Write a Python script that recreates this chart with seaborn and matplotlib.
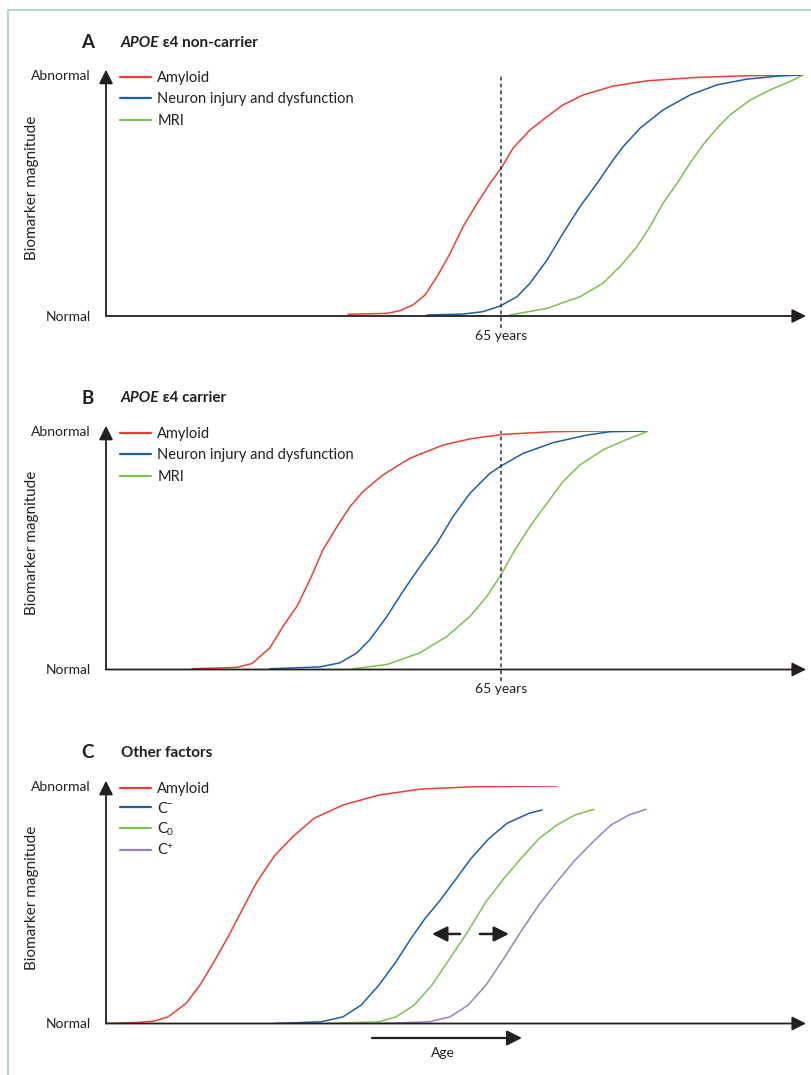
import matplotlib
matplotlib.use("Agg")
import matplotlib.pyplot as plt
import pandas as pd
import seaborn as sns
from matplotlib.patches import Rectangle

# === data (age axis in plot units, magnitude 0 = normal, 1 = abnormal) ===

# Panel A: APOE e4 non-carrier
a_amyloid_x = [348, 387, 400, 413, 425, 437, 450, 463, 477, 490, 502, 513, 530, 547, 563, 583, 613, 647, 697, 747, 803]
a_amyloid_y = [0.007, 0.011, 0.022, 0.046, 0.087, 0.163, 0.259, 0.370, 0.467, 0.550, 0.619, 0.696, 0.772, 0.827, 0.876,
               0.917, 0.954, 0.976, 0.990, 0.997, 1.0]
a_neuron_x = [427, 463, 483, 500, 517, 530, 547, 563, 580, 597, 613, 623, 640, 663, 690, 717, 747, 780, 803]
a_neuron_y = [0.004, 0.008, 0.018, 0.041, 0.080, 0.136, 0.232, 0.343, 0.454, 0.550, 0.647, 0.702, 0.779, 0.855, 0.917,
              0.959, 0.983, 0.996, 1.0]
a_mri_x = [510, 547, 580, 603, 620, 637, 650, 663, 677, 690, 703, 717, 730, 750, 770, 790, 803]
a_mri_y = [0.004, 0.032, 0.080, 0.136, 0.205, 0.288, 0.371, 0.468, 0.550, 0.634, 0.710, 0.779, 0.834, 0.896, 0.938,
           0.973, 1.0]

# Panel B: APOE e4 carrier
b_amyloid_x = [192, 237, 252, 270, 283, 297, 310, 323, 337, 350, 363, 383, 410, 443, 470, 503, 553, 603, 647]
b_amyloid_y = [0.003, 0.009, 0.025, 0.091, 0.181, 0.265, 0.377, 0.502, 0.599, 0.683, 0.746, 0.816, 0.886, 0.941, 0.967,
               0.986, 0.997, 1.0, 1.0]
b_neuron_x = [270, 320, 340, 357, 370, 387, 403, 420, 437, 453, 470, 490, 503, 523, 553, 587, 610, 647]
b_neuron_y = [0.003, 0.011, 0.028, 0.070, 0.126, 0.223, 0.328, 0.432, 0.530, 0.641, 0.739, 0.823, 0.858, 0.906, 0.951,
              0.983, 0.997, 1.0]
b_mri_x = [353, 387, 420, 447, 470, 487, 500, 513, 530, 547, 563, 580, 603, 627, 647]
b_mri_y = [0.003, 0.021, 0.070, 0.139, 0.223, 0.307, 0.390, 0.488, 0.600, 0.697, 0.788, 0.858, 0.921, 0.965, 0.997]

# Panel C: other factors
c_amyloid_x = [106, 136, 154, 168, 186, 200, 214, 229, 243, 257, 275, 293, 314, 343, 379, 421, 475, 557]
c_amyloid_y = [0.0, 0.004, 0.010, 0.028, 0.084, 0.162, 0.260, 0.372, 0.485, 0.597, 0.709, 0.787, 0.864, 0.920, 0.962,
               0.987, 0.997, 1.0]
c_minus_x = [274, 321, 343, 361, 379, 396, 411, 425, 439, 454, 471, 489, 507, 529, 542]
c_minus_y = [0.0, 0.007, 0.028, 0.077, 0.162, 0.260, 0.358, 0.442, 0.513, 0.597, 0.695, 0.779, 0.843, 0.885, 0.899]
c_zero_x = [326, 379, 396, 414, 432, 450, 468, 486, 504, 521, 539, 557, 575, 594]
c_zero_y = [0.0, 0.007, 0.028, 0.077, 0.162, 0.275, 0.388, 0.513, 0.611, 0.695, 0.779, 0.836, 0.878, 0.902]
c_plus_x = [378, 429, 450, 468, 486, 504, 521, 539, 557, 575, 593, 611, 629, 646]
c_plus_y = [0.0, 0.007, 0.028, 0.077, 0.162, 0.275, 0.388, 0.500, 0.597, 0.688, 0.765, 0.836, 0.878, 0.902]

age_65 = 501
shift_y = 0.377

series_names = ["Amyloid", "Neuron injury and dysfunction", "MRI"]
c_names = ["Amyloid", r"C$^{-}$", r"C$_0$", r"C$^{+}$"]
palette_ab = {"Amyloid": "#ee3d35", "Neuron injury and dysfunction": "#1d5ea8", "MRI": "#7cc04e"}
palette_c = {"Amyloid": "#ee3d35", r"C$^{-}$": "#1d5ea8", r"C$_0$": "#7cc04e", r"C$^{+}$": "#9a80c2"}


def long_df(names, xs, ys):
    parts = [pd.DataFrame({"age": x, "value": y, "series": n}) for n, x, y in zip(names, xs, ys)]
    return pd.concat(parts, ignore_index=True)


df_a = long_df(series_names, [a_amyloid_x, a_neuron_x, a_mri_x], [a_amyloid_y, a_neuron_y, a_mri_y])
df_b = long_df(series_names, [b_amyloid_x, b_neuron_x, b_mri_x], [b_amyloid_y, b_neuron_y, b_mri_y])
df_c = long_df(c_names, [c_amyloid_x, c_minus_x, c_zero_x, c_plus_x], [c_amyloid_y, c_minus_y, c_zero_y, c_plus_y])

# === 2. style ===
sns.set_theme(style="white")
plt.rcParams["font.family"] = ["Lato", "DejaVu Sans"]
plt.rcParams["mathtext.fontset"] = "custom"
plt.rcParams["mathtext.rm"] = "Lato"
plt.rcParams["mathtext.it"] = "Lato:italic"
plt.rcParams["mathtext.bf"] = "Lato:bold"

W, H = 811, 1075
INK = "#231f20"
fig = plt.figure(figsize=(W / 100, H / 100), dpi=100)

# green frame
fig.add_artist(Rectangle((8 / W, -0.1), 2, 1.1 - 10 / H, transform=fig.transFigure,
                         fill=False, ec="#9fd1b6", lw=1.2, clip_on=False))


def arrow(ax, start, end, coords="data", lw=1.3, scale=14):
    ax.annotate("", xy=end, xytext=start, xycoords=coords, textcoords=coords, annotation_clip=False,
                arrowprops=dict(arrowstyle="-|>,head_length=0.6,head_width=0.3", mutation_scale=scale,
                                lw=lw, color=INK, shrinkA=0, shrinkB=0))


def panel(top, bottom, df, names, palette, letter, title_it, title_rest, title_y, dashed=True, spacing=0.52):
    ax = fig.add_axes([106 / W, 1 - bottom / H, 700 / W, (bottom - top) / H])
    sns.lineplot(data=df, x="age", y="value", hue="series", hue_order=names, palette=palette,
                 estimator=None, sort=False, lw=1.1, ax=ax)
    ax.set_xlim(106, 806)
    ax.set_ylim(0, 1)
    for s in ax.spines.values():
        s.set_visible(False)
    ax.set_xlabel("")
    ax.set_ylabel("")
    ax.set_yticks([0, 1], ["Normal", "Abnormal"])
    ax.tick_params(axis="y", length=0, pad=11, labelsize=10, labelcolor=INK)
    if dashed:
        ax.set_xticks([age_65], ["65 years"])
        ax.axvline(age_65, ymin=-0.048, ymax=1, ls=(0, (2.5, 2)), color="#333333", lw=1.1, clip_on=False)
    else:
        ax.set_xticks([])
    ax.tick_params(axis="x", length=0, pad=10, labelsize=10, labelcolor=INK)

    # axis arrows
    arrow(ax, (0, 0), (0, 1.022), coords="axes fraction")
    arrow(ax, (0, 0), (1, 0), coords="axes fraction")

    ax.text(-0.106, 0.53, "Biomarker magnitude", rotation=90, ha="center", va="center",
            fontsize=11, color=INK, transform=ax.transAxes)

    handles, labels = ax.get_legend_handles_labels()
    leg = ax.legend(handles, labels, loc="upper left", bbox_to_anchor=(0.02, 1.018), frameon=False,
                    fontsize=10.5, handlelength=2.1, handletextpad=0.45, labelspacing=spacing,
                    borderpad=0, borderaxespad=0)
    for t in leg.get_texts():
        t.set_color(INK)
    for h in leg.get_lines():
        h.set_linewidth(1.6)

    fig.text(88 / W, 1 - title_y / H, letter, ha="center", va="center", fontsize=13.5,
             fontweight="bold", color=INK)
    t1 = fig.text(121 / W, 1 - title_y / H, title_it, ha="left", va="center", fontsize=11,
                  fontweight="bold", fontstyle="italic" if title_rest else "normal", color=INK)
    if title_rest:
        ax.annotate(title_rest, xy=(1, 0), xycoords=t1, ha="left", va="bottom", fontsize=11,
                    fontweight="bold", color=INK, annotation_clip=False)
    return ax


ax_a = panel(75, 316, df_a, series_names, palette_ab, "A", "APOE", " ε4 non-carrier", 43)
ax_b = panel(431, 669.5, df_b, series_names, palette_ab, "B", "APOE", " ε4 carrier", 398)
ax_c = panel(786, 1023.5, df_c, c_names, palette_c, "C", "Other factors", "", 753, dashed=False, spacing=0.33)

# shift arrows and age arrow in panel C
arrow(ax_c, (460, shift_y), (432, shift_y), lw=1.8, scale=15)
arrow(ax_c, (480, shift_y), (509, shift_y), lw=1.8, scale=15)
arrow(ax_c, (372, -0.061), (522, -0.061), lw=1.6, scale=15)
ax_c.text(443, -0.125, "Age", ha="center", va="center", fontsize=10, color=INK)

fig.savefig("out.png", dpi=100)
